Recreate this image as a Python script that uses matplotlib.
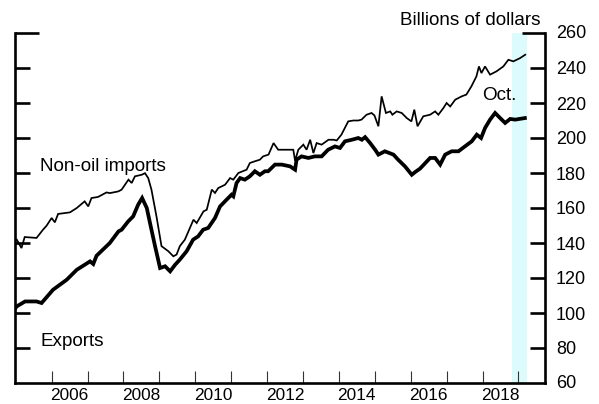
import matplotlib
matplotlib.use("Agg")
import matplotlib.pyplot as plt
import matplotlib.ticker as mticker
import matplotlib.transforms as mtransforms
from matplotlib.lines import Line2D

plt.rcParams['font.family'] = ['Liberation Sans', 'DejaVu Sans']

# ---------------- data (decimal years, billions of dollars) ----------------
imports_dates = [2005.03, 2005.16, 2005.25, 2005.58, 2005.76, 2005.86, 2006.00, 2006.09,
                 2006.18, 2006.51, 2006.70, 2006.92, 2007.02, 2007.11, 2007.29, 2007.53,
                 2007.62, 2007.86, 2007.95, 2008.14, 2008.23, 2008.32, 2008.51, 2008.60,
                 2008.69, 2008.78, 2008.92, 2009.06, 2009.25, 2009.39, 2009.48, 2009.57,
                 2009.71, 2009.95, 2010.04, 2010.23, 2010.32, 2010.46, 2010.55, 2010.64,
                 2010.83, 2010.97, 2011.06, 2011.20, 2011.43, 2011.52, 2011.66, 2011.80,
                 2011.89, 2012.04, 2012.18, 2012.31,
                 2012.73, 2012.78, 2012.87, 2013.01, 2013.10, 2013.20, 2013.29, 2013.38,
                 2013.52, 2013.71, 2013.85, 2013.94, 2014.07, 2014.26, 2014.40, 2014.54,
                 2014.63, 2014.77, 2014.91, 2014.99, 2015.10, 2015.19, 2015.31, 2015.43,
                 2015.49, 2015.61, 2015.75, 2015.89, 2016.02, 2016.10, 2016.19, 2016.35,
                 2016.54, 2016.68, 2016.77, 2016.91, 2017.00, 2017.10, 2017.24, 2017.42,
                 2017.55, 2017.69, 2017.83, 2017.90, 2017.97, 2018.07, 2018.21, 2018.39,
                 2018.58, 2018.72, 2018.86, 2019.05, 2019.19]
imports_values = [141.9, 137.1, 143.4, 142.9, 147.6, 149.9, 154.3, 151.8,
                  156.6, 157.5, 160.0, 163.8, 160.9, 165.7, 166.3, 168.9,
                  168.5, 169.5, 170.5, 176.2, 174.3, 178.1, 179.0, 179.9,
                  177.1, 170.5, 155.2, 138.2, 135.3, 132.4, 133.4, 138.2,
                  141.9, 153.3, 151.4, 158.1, 159.0, 170.5, 168.6, 171.4,
                  173.3, 177.1, 176.2, 180.0, 181.9, 185.7, 186.7, 187.6,
                  189.5, 190.5, 197.1, 193.3,
                  193.3, 187.0, 193.3, 196.2, 193.3, 199.0, 191.4, 197.1,
                  196.2, 199.0, 199.0, 198.6, 201.9, 209.5, 210.0, 210.0,
                  210.5, 213.3, 214.3, 212.9, 206.7, 223.8, 214.3, 215.2,
                  213.3, 215.2, 214.3, 211.4, 209.5, 216.2, 206.7, 212.4,
                  213.3, 215.2, 213.3, 217.1, 220.0, 218.0, 221.9, 223.8,
                  224.8, 229.5, 235.2, 240.9, 237.1, 240.9, 236.2, 238.1,
                  240.9, 244.7, 243.8, 245.7, 247.6]

exports_dates = [2005.00, 2005.03, 2005.26, 2005.58, 2005.72, 2006.04, 2006.42, 2006.70,
                 2007.07, 2007.16, 2007.25, 2007.62, 2007.86, 2007.95, 2008.13, 2008.27,
                 2008.41, 2008.52, 2008.65, 2008.74, 2008.88, 2009.02, 2009.16, 2009.30,
                 2009.44, 2009.57, 2009.76, 2009.94, 2010.08, 2010.22, 2010.36, 2010.55,
                 2010.69, 2010.87, 2011.01, 2011.06, 2011.15, 2011.25, 2011.38, 2011.52,
                 2011.66, 2011.80, 2011.94, 2012.03, 2012.22, 2012.41, 2012.64, 2012.78,
                 2012.82, 2012.96,
                 2013.15, 2013.33, 2013.52, 2013.70, 2013.89, 2014.03, 2014.17, 2014.36,
                 2014.54, 2014.64, 2014.73, 2014.87, 2015.01, 2015.10, 2015.28, 2015.52,
                 2015.65, 2015.84, 2016.03, 2016.12, 2016.26, 2016.54, 2016.68, 2016.82,
                 2016.96, 2017.14, 2017.33, 2017.51, 2017.70, 2017.84, 2017.96, 2018.07,
                 2018.21, 2018.35, 2018.49, 2018.63, 2018.77, 2018.91, 2019.18]
exports_values = [103.0, 103.8, 106.6, 106.6, 105.7, 113.3, 119.0, 124.7,
                  129.5, 128.0, 132.7, 140.0, 146.6, 147.6, 152.3, 155.2,
                  161.9, 165.7, 160.0, 151.4, 138.2, 125.7, 126.7, 123.8,
                  127.6, 130.5, 135.3, 141.9, 143.8, 147.6, 148.6, 154.3,
                  160.9, 164.7, 167.6, 166.7, 174.3, 177.1, 176.2, 178.1,
                  181.0, 179.0, 181.0, 181.0, 184.8, 184.8, 183.8, 181.9,
                  187.6, 189.5,
                  188.6, 189.5, 189.5, 193.3, 195.2, 194.3, 198.1, 199.0,
                  200.0, 199.0, 200.5, 197.1, 193.3, 190.5, 192.4, 190.5,
                  187.6, 183.8, 179.0, 180.5, 182.5, 188.6, 188.6, 184.8,
                  190.5, 192.4, 192.4, 195.2, 198.1, 201.9, 200.0, 205.7,
                  210.5, 214.3, 211.4, 208.6, 210.9, 210.5, 211.4]

year_ticks = list(range(2006, 2020))
year_labels = [2006, 2008, 2010, 2012, 2014, 2016, 2018]
y_ticks = list(range(60, 261, 20))
shade_span = (2018.81, 2019.25)

# ---------------- figure ----------------
fig = plt.figure(figsize=(5.99, 4.04), dpi=100)
ax = fig.add_axes([15 / 599, 1 - 383 / 404, 530 / 599, 350 / 404])

ax.axvspan(shade_span[0], shade_span[1], color='#DCFBFC', lw=0, zorder=0)
ax.plot(imports_dates, imports_values, color='black', lw=1.25, zorder=3,
        solid_joinstyle='miter')
ax.plot(exports_dates, exports_values, color='black', lw=2.7, zorder=4,
        solid_joinstyle='miter')

ax.set_xlim(2004.98, 2019.74)
ax.set_ylim(60, 260)

for s in ['left', 'right', 'bottom']:
    ax.spines[s].set_linewidth(1.9)
ax.spines['top'].set_visible(False)

# x ticks: year boundaries (major), labels at mid-year (minor)
ax.set_xticks(year_ticks)
ax.set_xticklabels([])
ax.set_xticks([y + 0.5 for y in year_labels], minor=True)
ax.set_xticklabels([str(y) for y in year_labels], minor=True)
ax.tick_params(axis='x', which='major', direction='in', length=8.3, width=0.8,
               color='#333333', top=False)
ax.tick_params(axis='x', which='minor', length=0, pad=3.3, labelsize=12.4)

# y ticks on both sides, labels on right
ax.set_yticks(y_ticks[1:-1])
ax.set_yticks([], minor=True)
ax.tick_params(axis='y', which='major', direction='in', length=11, width=1.9,
               left=True, right=True, labelleft=False, labelright=True,
               labelsize=13, pad=8)
ax.yaxis.set_major_formatter(mticker.FuncFormatter(lambda v, p: f"{int(v)}"))

# labels for 60 and 260 on the right (ticks at axis ends)
tr = mtransforms.blended_transform_factory(ax.transAxes, ax.transData)
for v in (y_ticks[0], y_ticks[-1]):
    ax.text(1 + 11 / 530, v, str(v), transform=tr, ha='left', va='center',
            fontsize=13, clip_on=False)
# longer end ticks at top
ax.add_line(Line2D([0, 24 / 530], [260, 260], transform=tr, color='black',
                   lw=1.9, clip_on=False, solid_capstyle='butt'))
ax.add_line(Line2D([1 - 23 / 530, 1], [260, 260], transform=tr, color='black',
                   lw=1.9, clip_on=False, solid_capstyle='butt'))

# annotations
fig.text(540.7 / 599, 1 - 25 / 404, 'Billions of dollars', ha='right',
         va='baseline', fontsize=13.6)
fig.text(39.5 / 599, 1 - 171 / 404, 'Non-oil imports', ha='left',
         va='baseline', fontsize=13.6)
fig.text(40 / 599, 1 - 346 / 404, 'Exports', ha='left', va='baseline',
         fontsize=13.6)
fig.text(516.7 / 599, 1 - 100 / 404, 'Oct.', ha='right', va='baseline',
         fontsize=13.6)

fig.savefig('out.png', dpi=100)
